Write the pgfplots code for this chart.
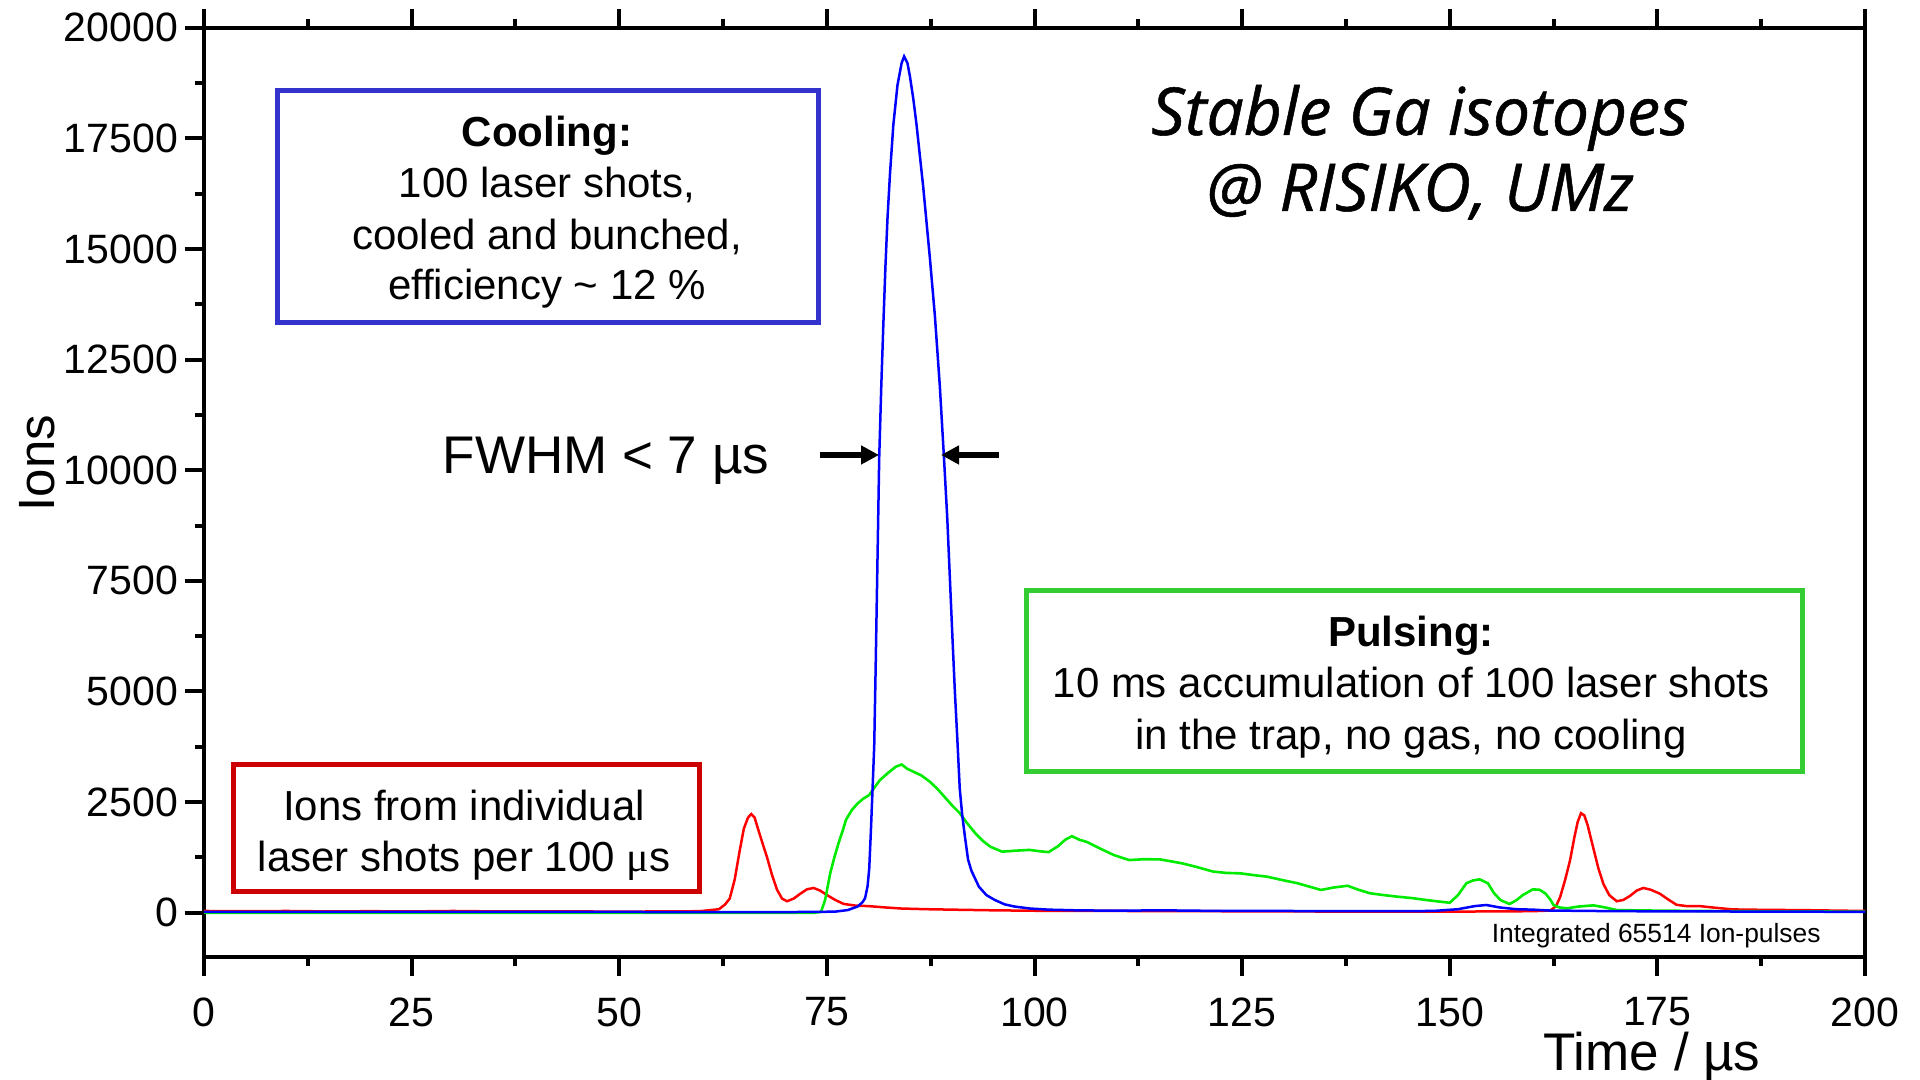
\documentclass[border=0pt]{standalone}
\usepackage{fontspec}
\setmainfont{Liberation Sans}
\newfontfamily\titlefont{Open Sans}[FakeBold=0.8]
\newfontfamily\serifmu{Liberation Serif}
\usepackage{pgfplots}
\pgfplotsset{compat=1.18}
\usetikzlibrary{arrows.meta}
\definecolor{boxblue}{RGB}{51,51,204}
\definecolor{boxred}{RGB}{204,0,0}
\definecolor{boxgreen}{RGB}{51,204,51}
\definecolor{lgreen}{RGB}{0,235,0}
\begin{document}
\begin{tikzpicture}
\useasboundingbox (0,0) rectangle (960pt,540pt);
\begin{axis}[
  at={(102pt,61.5pt)}, anchor=south west,
  scale only axis, width=830.5pt, height=464.65pt,
  xmin=0, xmax=200, ymin=-1000, ymax=20000,
  xtick={0,25,...,200}, ytick={0,2500,...,20000},
  minor x tick num=1, minor y tick num=1,
  tick align=outside, xtick pos=both, ytick pos=left,
  major tick length=9.5pt, minor tick length=4.5pt,
  every tick/.append style={black, line width=2pt},
  axis line style={line width=2pt},
  ticklabel style={font=\fontsize{20.5}{24}\selectfont},
  xticklabel style={inner sep=0pt, yshift=-10.5pt},
  /pgf/number format/assume math mode=true,
  /pgf/number format/set thousands separator={},
  scaled y ticks=false,
]
\addplot[red, line width=1.25pt] table {
x y
0 40
5 35
10 40
15 30
20 35
25 30
30 40
35 30
40 30
45 30
50 25
55 30
58 30
60 40
61 60
62 80
62.7 180
63.3 320
63.9 750
64.5 1400
65 1900
65.5 2150
65.9 2230
66.3 2150
66.7 1900
67.2 1600
67.8 1250
68.4 850
69.0 520
69.6 320
70.2 260
71.0 320
71.8 430
72.6 530
73.4 560
74.2 500
75.0 400
76.0 290
77.0 200
78.5 160
80 150
82 120
84 95
87 80
90 70
95 55
100 45
110 40
120 35
130 30
140 25
150 25
155 30
160 35
162.1 50
162.8 150
163.3 360
163.9 750
164.5 1200
165.0 1700
165.4 2050
165.8 2250
166.2 2200
166.6 1980
167.3 1450
167.9 1000
168.5 650
169.2 400
170.1 260
170.9 290
171.7 380
172.5 500
173.3 560
174.2 520
175.3 430
176.3 300
177.3 180
178.5 150
180.1 150
182.1 110
184.1 75
188 65
192 60
196 50
200 40
};
\addplot[lgreen, line width=1.3pt] table {
x y
0 0
70 0
73.5 0
74.3 20
74.8 300
75.4 890
75.9 1250
76.4 1570
76.9 1850
77.3 2100
78.0 2320
78.7 2470
79.4 2580
80.1 2660
80.8 2850
81.4 3000
82.3 3150
83.3 3300
84.0 3350
84.7 3250
85.5 3180
86.4 3100
87.4 2960
88.3 2800
89.3 2590
90.1 2420
91.0 2250
91.9 2020
92.9 1790
93.8 1620
94.7 1490
96.1 1380
97.5 1400
99.4 1420
100.6 1390
101.7 1370
102.8 1500
103.7 1650
104.5 1730
105.4 1650
106.3 1600
107.9 1450
109.6 1300
111.4 1190
113.2 1210
115.1 1205
116.5 1160
117.8 1115
119.6 1030
121.5 930
123.1 900
124.8 890
126.4 850
128.0 815
129.8 740
131.7 665
133.1 590
134.5 515
136.0 570
137.7 610
139.0 520
140.4 440
142.0 400
143.6 365
145.5 330
147.2 287
148.6 255
150.0 226
151.0 400
152.0 665
152.8 730
153.6 755
154.6 665
155.3 450
156.1 287
157.2 197
158.0 280
158.8 400
160.0 528
160.8 520
161.5 438
162.1 300
162.5 174
163.2 120
164.1 100
165.5 140
167.3 167
168.7 120
170.1 61
172 55
174.1 50
180 40
190 30
200 25
};
\addplot[blue, line width=1.25pt] table {
x y
0 20
20 20
40 20
60 15
70 15
74 20
76 25
77.5 60
78.7 140
79.3 240
79.6 330
79.9 600
80.1 1000
80.3 1850
80.5 2800
80.7 3770
80.85 5300
81.0 6950
81.15 8600
81.3 10280
81.55 11900
81.8 13300
82.05 14600
82.3 15700
82.6 16700
83.0 17800
83.5 18700
84.0 19200
84.3 19350
84.7 19200
85.0 18900
85.4 18400
85.8 17800
86.2 17100
86.6 16400
87.0 15600
87.4 14800
88.0 13500
88.6 11900
89.1 10280
89.5 8900
89.8 7600
90.1 6300
90.4 5040
90.7 3950
91.0 2800
91.3 2200
91.6 1750
92.0 1200
92.4 950
93.3 590
94.2 400
95.2 290
96.4 190
97.6 140
99.5 95
101.7 70
105 55
110 45
115 55
120 45
130 40
140 35
148 40
151 80
153 150
154.4 175
156 120
158 80
160 70
162 50
170 35
180 30
190 25
200 20
};
\end{axis}
\begin{scope}[x=0.5pt,y=-0.5pt,yshift=540pt]
  % boxes
  \draw[boxblue, line width=2.5pt] (277,91) rectangle (818,323);
  \draw[boxred, line width=2.5pt] (233,765) rectangle (699,892);
  \draw[boxgreen, line width=2.5pt] (1026,591) rectangle (1802,772);
  \begin{scope}[every node/.style={inner sep=0pt, anchor=base, font=\fontsize{21}{25}\selectfont}]
    \node at (547,147) {\textbf{Cooling:}};
    \node at (547,198) {100 laser shots,};
    \node at (547,250) {cooled and bunched,};
    \node at (547,300) {efficiency \textasciitilde{} 12 \%};
    \node at (464,821) {Ions from individual};
    \node at (464,872) {laser shots per 100 {\serifmu μ}s};
    \node at (1411,647) {\textbf{Pulsing:}};
    \node at (1411,698) {10 ms accumulation of 100 laser shots};
    \node at (1411,750) {in the trap, no gas, no cooling};
  \end{scope}
  % title
  \node[inner sep=0pt, anchor=base, font=\titlefont\itshape\fontsize{33}{38}\selectfont] at (1420,135) {Stable Ga isotopes};
  \node[inner sep=0pt, anchor=base, font=\titlefont\itshape\fontsize{33}{38}\selectfont] at (1420,211) {@ RISIKO, UMz};
  % FWHM
  \node[inner sep=0pt, anchor=base, font=\fontsize{26.5}{30}\selectfont] at (606,474) {FWHM < 7 µs};
  \draw[line width=3pt, -{Triangle[length=9pt,width=9pt]}] (820,455) -- (879,455);
  \draw[line width=3pt, -{Triangle[length=9pt,width=9pt]}] (999,455) -- (941,455);
  % small note
  \node[inner sep=0pt, anchor=base east, font=\fontsize{13.2}{15}\selectfont] at (1821,943) {Integrated 65514 Ion-pulses};
  % axis labels
  \node[inner sep=0pt, anchor=base, font=\fontsize{26.5}{30}\selectfont] at (1652,1071) {Time / µs};
  \node[inner sep=0pt, anchor=base, rotate=90, font=\fontsize{25.5}{30}\selectfont] at (54,463) {Ions};
\end{scope}
\end{tikzpicture}
\end{document}
